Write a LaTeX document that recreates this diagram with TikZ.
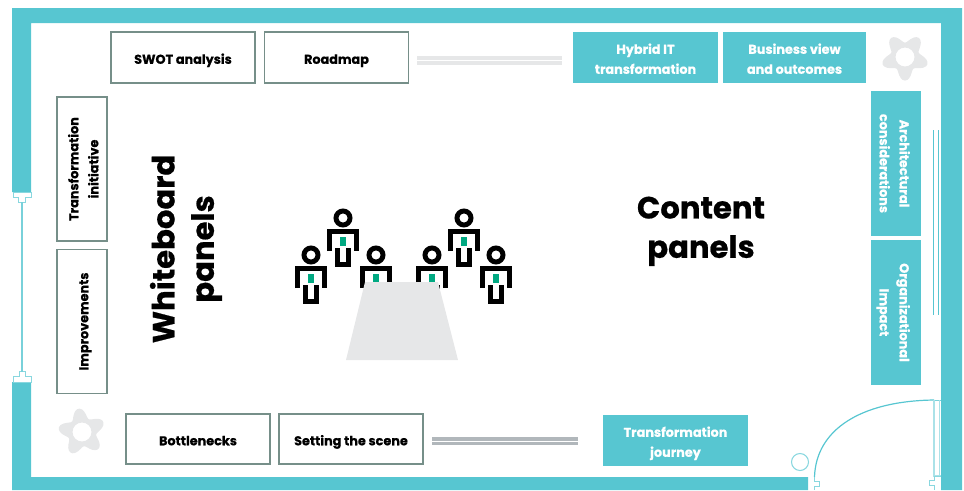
\documentclass[tikz,border=0pt]{standalone}
\usepackage{fontspec}
\setmainfont{Poppins}[BoldFeatures={FakeBold=0.6}]
\definecolor{teal1}{HTML}{57C6D1}
\definecolor{edge1}{HTML}{768F89}
\definecolor{pale}{HTML}{E6E7E8}
\definecolor{dgray}{HTML}{B1B7BB}
\definecolor{tie}{HTML}{01A982}
\newcommand{\lbl}[1]{\raisebox{-1.7pt}[\height][\depth]{\begin{tabular}{@{}c@{}}#1\end{tabular}}}
\tikzset{
 x=0.75pt,y=-0.75pt,
 wbox/.style={draw=edge1,line width=1.25pt,fill=white,minimum width=108pt,minimum height=37.8pt,inner sep=0pt,font=\fontsize{9.6pt}{15pt}\selectfont\bfseries},
 tbox/.style={fill=teal1,text=white,minimum width=108.5pt,minimum height=38pt,inner sep=0pt,font=\fontsize{9.6pt}{15pt}\selectfont\bfseries},
 big/.style={inner sep=0pt,font=\fontsize{23pt}{29.5pt}\selectfont\bfseries},
 jamb/.style={draw=teal1!70,line width=.6pt,fill=white},
 doorline/.style={draw=teal1,line width=.9pt},
}
\newcommand{\flowerat}[3]{%
 \fill[pale,even odd rule,shift={(#1,#2)}]
  plot[smooth cycle,samples=60,domain=0:354,variable=\t] ({(19+4.6*cos(5*(\t-#3)))*cos(\t)},{(19+4.6*cos(5*(\t-#3)))*sin(\t)})
  (0,0) circle[radius=9.5];}
\newcommand{\personat}[2]{%
 \begin{scope}[shift={(#1,#2)}]
  \draw[black,line width=3.7pt] (0,0) circle[radius=7];
  \draw[black,line width=3.7pt] (-13.5,33) -- (-13.5,13.5) -- (13.5,13.5) -- (13.5,33);
  \draw[black,line width=3.7pt] (-5.7,30) -- (-5.7,46.5) -- (5.7,46.5) -- (5.7,30);
  \fill[tie] (-3,19) rectangle (3,28);
 \end{scope}}
\begin{document}
\begin{tikzpicture}
\useasboundingbox (0,0) rectangle (964,490);
% walls
\fill[teal1] (12,192) -- (12,8) -- (962,8) -- (962,490) -- (941,490) -- (941,23) -- (31,23) -- (31,192) -- cycle;
\fill[teal1] (12,382) -- (12,490) -- (808,490) -- (808,477) -- (31,477) -- (31,382) -- cycle;
% left door
\draw[jamb] (13,192) -- (13,197) -- (18,197) -- (18,202) -- (25,202) -- (25,197) -- (31,197) -- (31,192) -- cycle;
\draw[jamb] (13,382) -- (13,376) -- (19,376) -- (19,371.5) -- (25,371.5) -- (25,376) -- (31.5,376) -- (31.5,382) -- cycle;
\draw[teal1!80,line width=.9pt] (22,202) -- (22,372);
% right door
\draw[doorline] (814.5,477) .. controls (816,430) and (860,401) .. (934,400);
\draw[teal1!80,line width=.7pt] (934,400) -- (941,400);
\draw[teal1!50,line width=.9pt] (934,400) -- (934,476) -- (941,476);
\draw[teal1!50,line width=.7pt] (939,400) -- (939,476);
\draw[jamb] (814.5,477) -- (814.5,481) -- (819.5,481) -- (819.5,486) -- (814.5,486) -- (814.5,490);
\draw[jamb] (941,476) -- (934,476) -- (934,480) -- (929.5,480) -- (929.5,485) -- (934,485) -- (934,490);
\draw[teal1!70,line width=.8pt] (800,462) circle[radius=8.5];
% window lines
\draw[teal1,line width=1pt] (933.7,130) -- (933.7,315);
\draw[teal1,line width=1pt] (938.3,130) -- (938.3,315);
% double lines
\draw[pale,line width=3pt] (417,58) -- (562,58);
\draw[pale,line width=3pt] (417,63) -- (562,63);
\draw[dgray,line width=2.6pt] (432,439) -- (578,439);
\draw[dgray,line width=2.6pt] (432,443.4) -- (578,443.4);
% flowers
\flowerat{905}{57}{90}
\flowerat{82}{432}{-98}
% panels
\node[wbox] (swot) at (183,57.5) {\lbl{SWOT analysis}};
\node[wbox] (road) at (336.5,57.5) {\lbl{Roadmap}};
\node[tbox] (hybrid) at (645.5,57.5) {\lbl{Hybrid IT\\transformation}};
\node[tbox,minimum width=107pt] (biz) at (794.5,57.5) {\lbl{Business view\\and outcomes}};
\node[wbox,rotate=90] (init) at (82,169) {\lbl{Transformation\\initiative}};
\node[wbox,rotate=90] (impr) at (82,321.5) {\lbl{Improvements}};
\node[wbox] (bott) at (198,439) {\lbl{Bottlenecks}};
\node[wbox] (scene) at (351,439) {\lbl{Setting the scene}};
\node[tbox] (journey) at (675.5,440.5) {\lbl{Transformation\\journey}};
\node[tbox,rotate=-90] (arch) at (896,163.5) {\lbl{Architectural\\considerations}};
\node[tbox,rotate=-90] (org) at (896,312.5) {\lbl{Organizational\\Impact}};
\node[big,rotate=90] (wb) at (184,249) {\lbl{Whiteboard\\panels}};
\node[big] (cp) at (701,228) {\lbl{Content\\panels}};
% people
\personat{343}{218}
\personat{464}{218}
\personat{311}{255}
\personat{376}{255}
\personat{432}{255}
\personat{496}{255}
\fill[pale] (365,282) -- (438,282) -- (458,360) -- (346,360) -- cycle;
\end{tikzpicture}
\end{document}
